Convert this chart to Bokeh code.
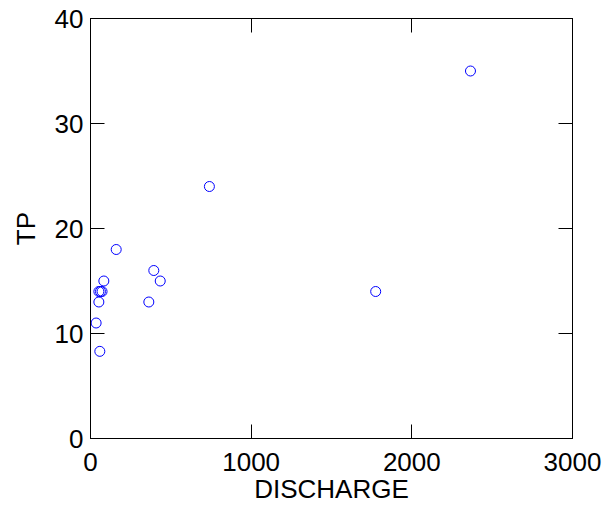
from bokeh.plotting import figure
from bokeh.models import LinearAxis, Range1d, FixedTicker
from bokeh.embed import file_html
from bokeh.resources import INLINE

# Data
discharge = [2365, 740, 1775, 160, 83, 52, 62, 72, 52, 35, 58, 394, 434, 363]
tp = [35, 24, 14, 18, 15, 14, 14, 14, 13, 11, 8.3, 16, 15, 13]

x_ticks = [0, 1000, 2000, 3000]
y_ticks = [0, 10, 20, 30, 40]

FONT = "Liberation Sans"
FS = "26px"

p = figure(
    width=602, height=507,
    x_range=Range1d(0, 3000), y_range=Range1d(0, 40),
    output_backend="svg", toolbar_location=None,
    min_border_left=90, min_border_right=30, min_border_top=18, min_border_bottom=69,
    x_axis_label="DISCHARGE", y_axis_label="TP",
)
p.grid.visible = False
p.outline_line_color = "black"
p.outline_line_width = 1
p.background_fill_color = "white"
p.border_fill_color = "white"

p.scatter(discharge, tp, marker="circle", size=10, fill_color=None,
          line_color="#0000ff", line_width=1)

for ax in p.xaxis:
    ax.ticker = FixedTicker(ticks=x_ticks)
    ax.major_label_standoff = 14
    ax.axis_label_standoff = 0
for ax in p.yaxis:
    ax.ticker = FixedTicker(ticks=y_ticks)
    ax.major_label_standoff = 7
    ax.axis_label_standoff = 11

for ax in p.xaxis + p.yaxis:
    ax.major_tick_in = 14
    ax.major_tick_out = 0
    ax.minor_tick_line_color = None
    ax.major_tick_line_color = "black"
    ax.axis_line_color = "black"
    ax.major_label_text_font = FONT
    ax.major_label_text_font_size = FS
    ax.major_label_text_color = "black"
    ax.axis_label_text_font = FONT
    ax.axis_label_text_font_size = FS
    ax.axis_label_text_font_style = "normal"
    ax.axis_label_text_color = "black"

# Unlabelled inward ticks on the top and right edges (drawn as minor ticks, no labels)
top = LinearAxis(ticker=FixedTicker(ticks=[], minor_ticks=x_ticks),
                 major_label_standoff=0, major_tick_out=0,
                 minor_tick_in=14, minor_tick_out=0, minor_tick_line_color="black",
                 axis_line_color="black")
right = LinearAxis(ticker=FixedTicker(ticks=[], minor_ticks=y_ticks),
                   major_label_standoff=0, major_tick_out=0,
                   minor_tick_in=14, minor_tick_out=0, minor_tick_line_color="black",
                   axis_line_color="black")
p.add_layout(top, "above")
p.add_layout(right, "right")

open("out.html", "w").write(file_html(p, INLINE))
